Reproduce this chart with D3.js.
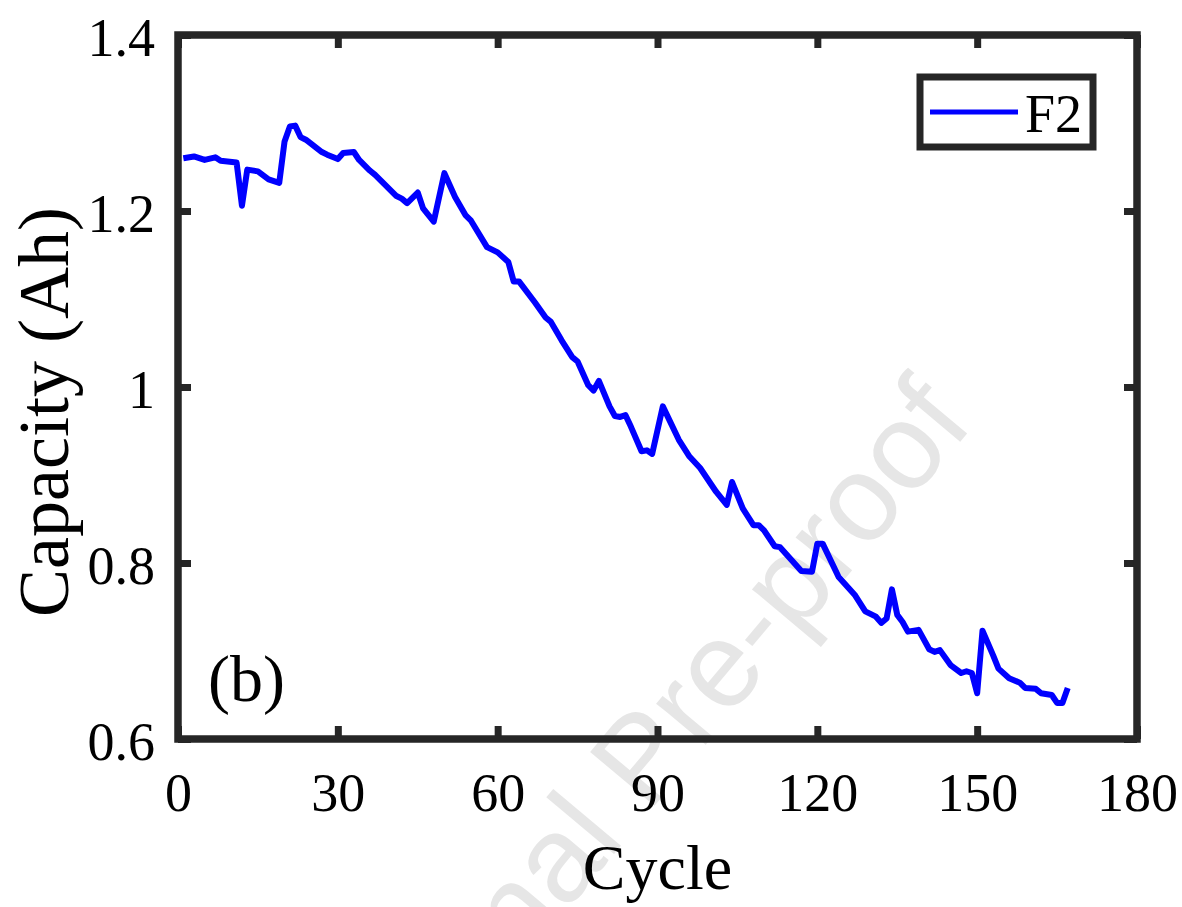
<!DOCTYPE html>
<html><head><meta charset="utf-8">
<script src="https://cdn.jsdelivr.net/npm/d3@7"></script>
<style>body{margin:0;background:#fff}svg{display:block}</style></head>
<body>
<svg id="c" width="1182" height="907"></svg>
<script>
const cycles = [1,3,5,7,8,11,12,13,15,17,19,20,21,22,23,24,27,28,30,31,33,34,36,37,41,42,43,45,46,48,50,52,54,55,58,60,62,63,64,67,69,70,72,74,75,77,78,79,81,82,83,84,85,87,88,89,91,94,96,98,101,103,104,106,108,109,110,112,113,117,119,120,121,124,127,129,131,132,133,134,135,136,137,139,141,142,143,145,147,148,149,150,151,153,154,156,158,159,161,162,164,165,166,167];
const capacity = [1.260,1.262,1.258,1.261,1.257,1.255,1.206,1.247,1.245,1.236,1.232,1.279,1.296,1.297,1.284,1.281,1.267,1.264,1.259,1.266,1.267,1.258,1.246,1.241,1.217,1.214,1.209,1.221,1.203,1.188,1.243,1.216,1.195,1.189,1.159,1.153,1.142,1.120,1.120,1.096,1.079,1.074,1.053,1.034,1.029,1.002,0.996,1.007,0.978,0.967,0.966,0.968,0.955,0.927,0.928,0.924,0.978,0.940,0.921,0.908,0.881,0.866,0.892,0.862,0.843,0.843,0.837,0.819,0.818,0.791,0.790,0.822,0.822,0.784,0.764,0.745,0.739,0.732,0.737,0.770,0.741,0.733,0.722,0.724,0.702,0.699,0.701,0.684,0.675,0.677,0.675,0.652,0.723,0.695,0.680,0.669,0.664,0.658,0.657,0.652,0.650,0.641,0.641,0.658];
const xTicks = [0,30,60,90,120,150,180];
const yTicks = [0.6,0.8,1.0,1.2,1.4];
const yTickLabels = ["0.6","0.8","1","1.2","1.4"];
const seriesName = "F2";
const xLabel = "Cycle";
const yLabel = "Capacity (Ah)";
const panelLabel = "(b)";
const watermark = "Journal Pre-proof";

const svg = d3.select("#c");
svg.append("rect").attr("width",1182).attr("height",907).attr("fill","#fff");
const m = {l:178, r:1137, t:35, b:739};
const x = d3.scaleLinear().domain([0,180]).range([m.l,m.r]);
const y = d3.scaleLinear().domain([0.6,1.4]).range([m.b,m.t]);
const ink = "#262626";
const serif = "'Liberation Serif','Times New Roman',serif";

// watermark
svg.append("text").text(watermark)
  .attr("transform","translate(672,785) rotate(-50)")
  .attr("text-anchor","middle")
  .attr("font-family","'Liberation Sans',Arial,sans-serif")
  .attr("font-size",122).attr("fill","#e6e6e6");

// data line
const data = cycles.map((c,i)=>({c, v:capacity[i]}));
svg.append("path").datum(data)
  .attr("fill","none").attr("stroke","#0000ff").attr("stroke-width",6)
  .attr("stroke-linejoin","round").attr("stroke-linecap","butt")
  .attr("d", d3.line().x(d=>x(d.c)).y(d=>y(d.v)));

// axes
const tickLen = 13;
function style(g){
  g.select(".domain").remove();
  g.selectAll(".tick line").attr("stroke",ink).attr("stroke-width",7);
  g.selectAll(".tick text").attr("fill","#000").attr("font-family",serif).attr("font-size",54);
}
svg.append("g").attr("transform",`translate(0,${m.b})`)
  .call(d3.axisBottom(x).tickValues(xTicks).tickFormat(d3.format("d")).tickSize(-tickLen).tickPadding(34))
  .call(style);
svg.append("g").attr("transform",`translate(0,${m.t})`)
  .call(d3.axisTop(x).tickValues(xTicks).tickFormat("").tickSize(-tickLen))
  .call(style);
svg.append("g").attr("transform",`translate(${m.l},0)`)
  .call(d3.axisLeft(y).tickValues(yTicks).tickFormat((d,i)=>yTickLabels[i]).tickSize(-tickLen).tickPadding(23))
  .call(style)
  .call(g=>g.selectAll(".tick text").attr("dy","0.38em"));
svg.append("g").attr("transform",`translate(${m.r},0)`)
  .call(d3.axisRight(y).tickValues(yTicks).tickFormat("").tickSize(-tickLen))
  .call(style);

// box
svg.append("rect").attr("x",m.l).attr("y",m.t).attr("width",m.r-m.l).attr("height",m.b-m.t)
  .attr("fill","none").attr("stroke",ink).attr("stroke-width",7.5);

// labels
svg.append("text").text(xLabel).attr("x",(m.l+m.r)/2).attr("y",889)
  .attr("text-anchor","middle").attr("font-family",serif).attr("font-size",64).attr("fill","#000");
svg.append("text").text(yLabel).attr("transform","translate(68,412) rotate(-90)")
  .attr("text-anchor","middle").attr("font-family",serif).attr("font-size",72).attr("fill","#000");
svg.append("text").text(panelLabel).attr("x",208).attr("y",701)
  .attr("font-family",serif).attr("font-size",66).attr("fill","#000");

// legend
const lg = svg.append("g");
lg.append("rect").attr("x",920).attr("y",77).attr("width",173).attr("height",70)
  .attr("fill","#fff").attr("stroke",ink).attr("stroke-width",7);
lg.append("line").attr("x1",930).attr("x2",1018).attr("y1",112).attr("y2",112)
  .attr("stroke","#0000ff").attr("stroke-width",5);
lg.append("text").text(seriesName).attr("x",1025).attr("y",132)
  .attr("font-family",serif).attr("font-size",54).attr("fill","#000");
</script>
</body></html>
